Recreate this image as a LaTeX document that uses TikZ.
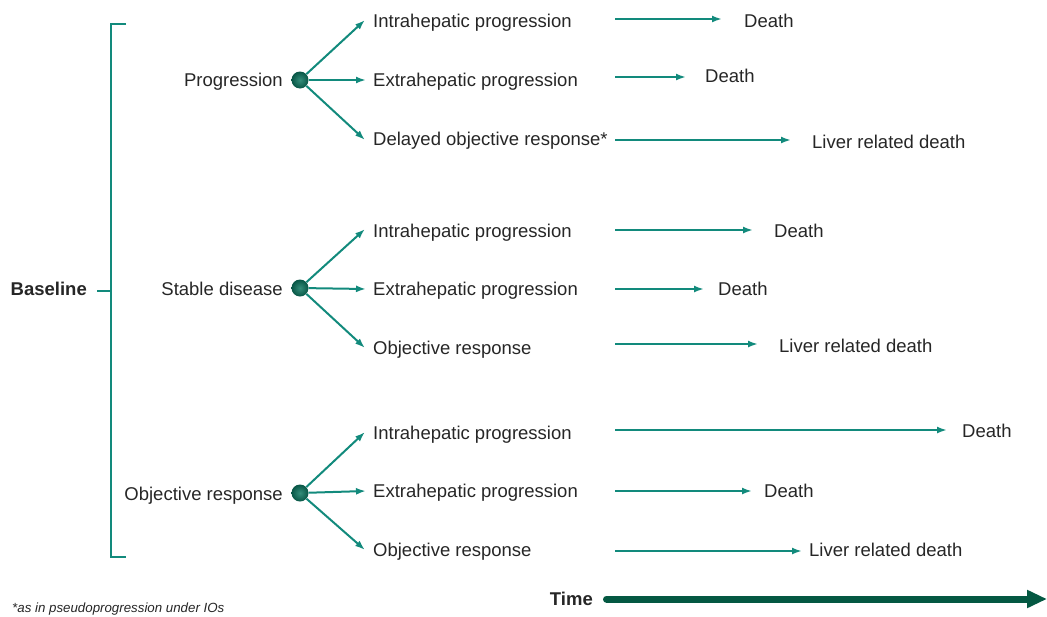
\documentclass[tikz,border=0pt]{standalone}
\usepackage{fontspec}
\setmainfont{Liberation Sans}
\usetikzlibrary{arrows.meta}
\definecolor{tealline}{RGB}{18,138,124}
\definecolor{timegreen}{RGB}{4,88,66}
\definecolor{ballin}{RGB}{52,142,122}
\definecolor{ballout}{RGB}{8,86,70}
\definecolor{txt}{RGB}{38,38,38}
\begin{document}
\begin{tikzpicture}[x=1pt,y=-1pt,
  lbl/.style={font=\fontsize{18.5}{22}\selectfont, text=txt, inner sep=0pt, text height=13pt, text depth=0pt},
  boldlbl/.style={lbl, font=\fontsize{18.5}{22}\selectfont\bfseries},
  arr/.style={draw=tealline, line width=2pt, -{Latex[length=10pt,width=7pt]}},
  brk/.style={draw=tealline, line width=2.2pt},
  dot/.style={circle, minimum size=17pt, inner sep=0pt, shading=radial, inner color=ballin, outer color=ballout},
  timearr/.style={draw=timegreen, line width=7pt, line cap=round, -{Triangle[length=20pt,width=17pt]}}
]
\useasboundingbox (0,0) rectangle (1047,616);

% bracket
\draw[brk] (126,24) -- (111,24) -- (111,557) -- (126,557);
\node[boldlbl, anchor=east] (bl) at (87,289) {Baseline};
\coordinate (bm) at (111,291);
\draw[brk] (97,291) -- (bm);

% ---------- group 1 ----------
\node[dot] (p) at (300,80) {};
\node[lbl, anchor=east] (pl) at (283,80) {Progression};
\node[lbl, anchor=west] (pi) at (373,21) {Intrahepatic progression};
\node[lbl, anchor=west] (px) at (373,80) {Extrahepatic progression};
\node[lbl, anchor=west] (pd) at (373,139) {Delayed objective response*};
\draw[arr] (p) -- ([xshift=-8pt,yshift=1pt]pi.west);
\draw[arr] (p) -- ([xshift=-7pt]px.west);
\draw[arr] (p) -- ([xshift=-8pt,yshift=-1pt]pd.west);
\node[lbl, anchor=west] (pid) at (744,21) {Death};
\node[lbl, anchor=west] (pxd) at (705,76) {Death};
\node[lbl, anchor=west] (pdd) at (812,142) {Liver related death};
\coordinate (a1) at (615,19);  \coordinate (b1) at (722,19);
\coordinate (a2) at (615,77);  \coordinate (b2) at (686,77);
\coordinate (a3) at (615,140); \coordinate (b3) at (791,140);
\draw[arr] (a1) -- (b1);
\draw[arr] (a2) -- (b2);
\draw[arr] (a3) -- (b3);

% ---------- group 2 ----------
\node[dot] (s) at (300,288) {};
\node[lbl, anchor=east] (sl) at (283,289) {Stable disease};
\node[lbl, anchor=west] (si) at (373,231) {Intrahepatic progression};
\node[lbl, anchor=west] (sx) at (373,289) {Extrahepatic progression};
\node[lbl, anchor=west] (so) at (373,348) {Objective response};
\draw[arr] (s) -- ([xshift=-8pt,yshift=2pt]si.west);
\draw[arr] (s) -- ([xshift=-7pt]sx.west);
\draw[arr] (s) -- ([xshift=-8pt]so.west);
\node[lbl, anchor=west] (sid) at (774,231) {Death};
\node[lbl, anchor=west] (sxd) at (718,289) {Death};
\node[lbl, anchor=west] (sod) at (779,346) {Liver related death};
\coordinate (a4) at (615,230); \coordinate (b4) at (753,230);
\coordinate (a5) at (615,289); \coordinate (b5) at (704,289);
\coordinate (a6) at (615,344); \coordinate (b6) at (758,344);
\draw[arr] (a4) -- (b4);
\draw[arr] (a5) -- (b5);
\draw[arr] (a6) -- (b6);

% ---------- group 3 ----------
\node[dot] (o) at (300,493) {};
\node[lbl, anchor=east] (ol) at (283,494) {Objective response};
\node[lbl, anchor=west] (oi) at (373,433) {Intrahepatic progression};
\node[lbl, anchor=west] (ox) at (373,491) {Extrahepatic progression};
\node[lbl, anchor=west] (oo) at (373,550) {Objective response};
\draw[arr] (o) -- ([xshift=-8pt,yshift=1pt]oi.west);
\draw[arr] (o) -- ([xshift=-7pt]ox.west);
\draw[arr] (o) -- ([xshift=-8pt]oo.west);
\node[lbl, anchor=west] (oid) at (962,431) {Death};
\node[lbl, anchor=west] (oxd) at (764,491) {Death};
\node[lbl, anchor=west] (ood) at (809,550) {Liver related death};
\coordinate (a7) at (615,430); \coordinate (b7) at (947,430);
\coordinate (a8) at (615,491); \coordinate (b8) at (752,491);
\coordinate (a9) at (615,551); \coordinate (b9) at (802,551);
\draw[arr] (a7) -- (b7);
\draw[arr] (a8) -- (b8);
\draw[arr] (a9) -- (b9);

% ---------- time ----------
\node[boldlbl, anchor=east] (time) at (593,599) {Time};
\coordinate (tend) at (1047,599);
\draw[timearr] ([xshift=13.5pt]time.east) -- (tend);

% footnote
\node[font=\fontsize{13.3}{15}\selectfont\itshape, text=txt, inner sep=0pt, anchor=base west] (fn) at (12,612) {*as in pseudoprogression under IOs};
\end{tikzpicture}
\end{document}
